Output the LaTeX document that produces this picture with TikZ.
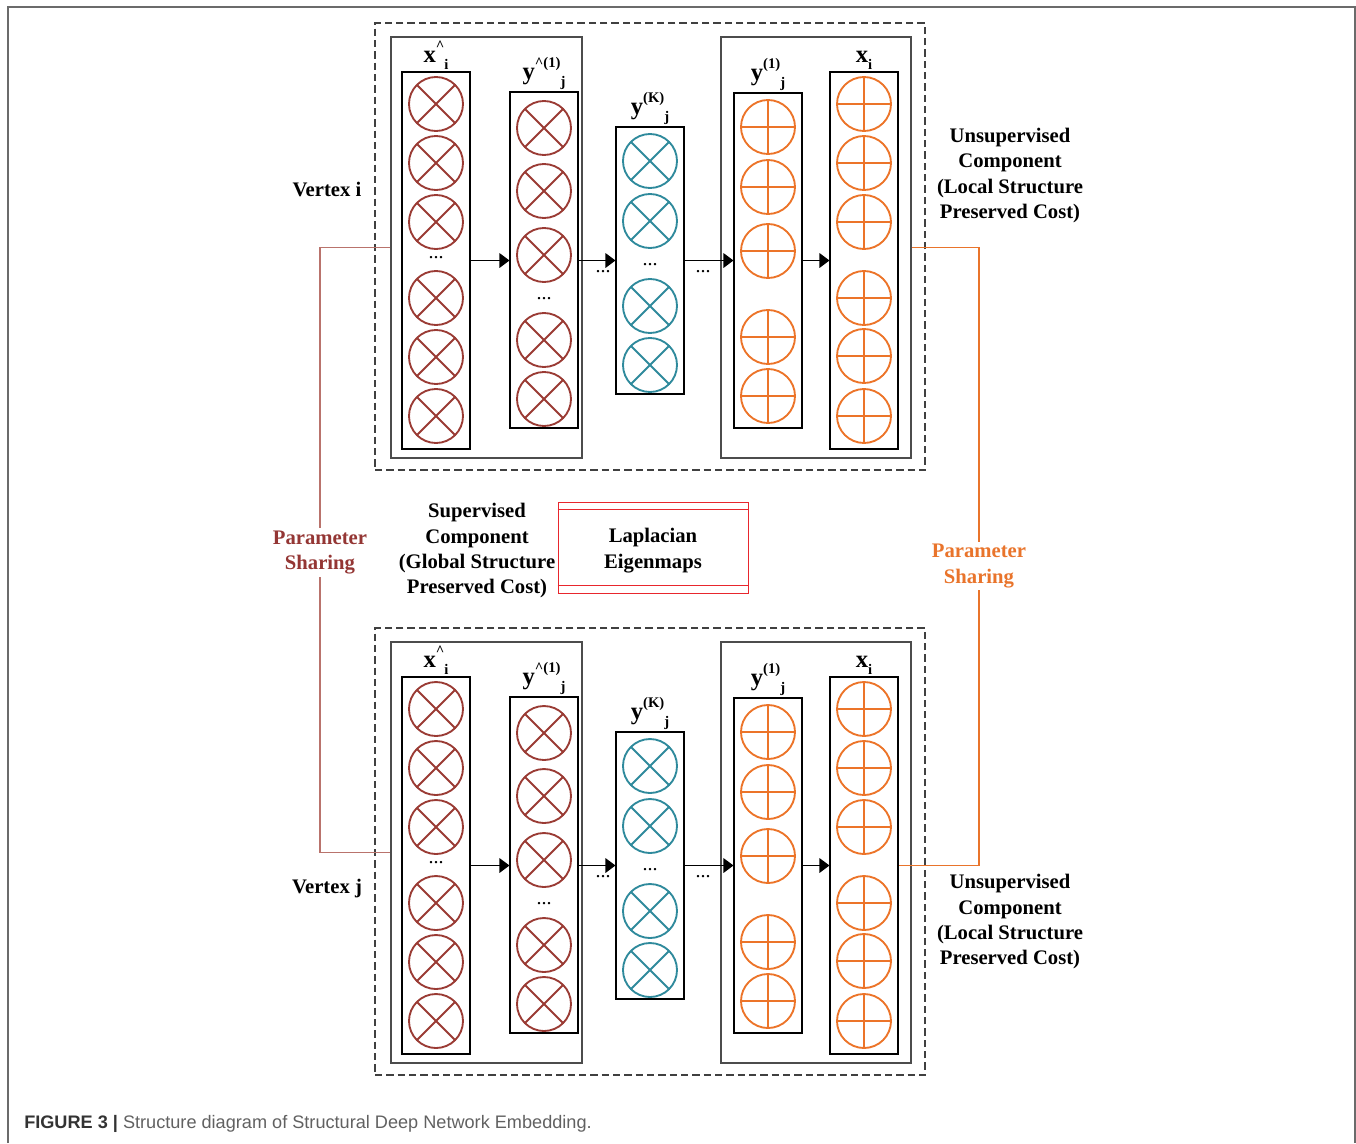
\documentclass[tikz,border=0pt]{standalone}
\usepackage{fontspec}
\setmainfont{Liberation Serif}
\setsansfont{Liberation Sans}
\usetikzlibrary{arrows.meta,calc}

\definecolor{xred}{HTML}{9A3B34}
\definecolor{xteal}{HTML}{2F8A9C}
\definecolor{xorange}{HTML}{EC7429}
\definecolor{psred}{HTML}{943634}
\definecolor{psredline}{HTML}{B9736C}
\definecolor{psorange}{HTML}{E9742B}
\definecolor{lapred}{HTML}{E8262D}
\definecolor{framegray}{HTML}{6B6B6B}

% raised / lowered small indices for the layer labels
\newcommand\supx[1]{\raisebox{0.5em}{\fontsize{11}{11}\selectfont #1}}
\newcommand\subx[1]{\raisebox{-0.3em}{\fontsize{11}{11}\selectfont #1}}

\tikzset{
  txt/.style={font=\fontsize{15.5}{19}\selectfont\bfseries, align=center, inner sep=0pt, yshift=-2.25pt},
  lbl/.style={font=\fontsize{18.5}{20}\selectfont\bfseries, inner sep=1pt, anchor=south},
  colbox/.style={draw=black, line width=0.8pt, minimum width=51pt, inner sep=0pt},
  netbox/.style={draw=black!70, line width=1.1pt, inner sep=0pt, minimum height=315.75pt},
  compbox/.style={draw=black!75, line width=0.9pt, dash pattern=on 5.5pt off 3pt, inner sep=0pt},
  neuron/.style={circle, draw=#1, line width=1.4pt, minimum size=40.5pt, inner sep=0pt},
  xneuron/.style={neuron=#1, path picture={\draw[#1, line width=1.4pt]
      (path picture bounding box.north west) -- (path picture bounding box.south east)
      (path picture bounding box.north east) -- (path picture bounding box.south west);}},
  pneuron/.style={neuron=#1, path picture={\draw[#1, line width=1.4pt]
      (path picture bounding box.north) -- (path picture bounding box.south)
      (path picture bounding box.east) -- (path picture bounding box.west);}},
  flow/.style={-{Triangle[length=7.5pt,width=11pt]}, line width=0.8pt},
  dotsnode/.style={font=\fontsize{15}{15}\selectfont, inner sep=0pt, anchor=base},
  share/.style={line width=0.95pt},
}

% one autoencoder component: #1 = name prefix, #2 = vertical offset (px)
\newcommand\sdnecomponent[2]{%
\begin{scope}[shift={(0,#2)}]
  \node[compbox, minimum width=412.5pt, minimum height=335.25pt] (#1-comp) at (650,246.5) {};
  \node[netbox, minimum width=143.25pt] (#1-enc) at (486.5,247.5) {};
  \node[netbox, minimum width=142.5pt] (#1-dec) at (816,247.5) {};
  % layer columns
  \node[colbox, minimum height=282.75pt] (#1-ca) at (436,260.5) {};
  \node[colbox, minimum height=252pt]    (#1-cb) at (544,260) {};
  \node[colbox, minimum height=200.25pt] (#1-cc) at (650,260.5) {};
  \node[colbox, minimum height=251.25pt] (#1-cd) at (768,260.5) {};
  \node[colbox, minimum height=282.75pt] (#1-ce) at (864,260.5) {};
  % units
  \foreach \yy [count=\k] in {104,163,222,298,357,416}
    \node[xneuron=xred] (#1-a\k) at (436,\yy) {};
  \foreach \yy [count=\k] in {128,191,255,340,399}
    \node[xneuron=xred] (#1-b\k) at (544,\yy) {};
  \foreach \yy [count=\k] in {161,221,306,365}
    \node[xneuron=xteal] (#1-c\k) at (650,\yy) {};
  \foreach \yy [count=\k] in {127,187,251,337,396}
    \node[pneuron=xorange] (#1-d\k) at (768,\yy) {};
  \foreach \yy [count=\k] in {104,163,222,298,356,416}
    \node[pneuron=xorange] (#1-e\k) at (864,\yy) {};
  % elided units
  \node[dotsnode] (#1-da) at (436,258) {...};
  \node[dotsnode] (#1-db) at (544,299) {...};
  \node[dotsnode] (#1-dc) at (650,265) {...};
  % layer labels
  \node[lbl] (#1-la) at (#1-ca.north) {x\supx{\textasciicircum}\subx{i}};
  \node[lbl] (#1-lb) at (#1-cb.north) {y\supx{\textasciicircum(1)}\subx{j}};
  \node[lbl] (#1-lc) at (#1-cc.north) {y\supx{(K)}\subx{j}};
  \node[lbl] (#1-ld) at (#1-cd.north) {y\supx{(1)}\subx{j}};
  \node[lbl] (#1-le) at (#1-ce.north) {x\subx{i}};
  % forward flow
  \draw[flow] (#1-ca.east) -- (#1-ca.east -| #1-cb.west);
  \draw[flow] (#1-cb.east |- #1-ca.east) -- (#1-ca.east -| #1-cc.west);
  \draw[flow] (#1-cc.east) -- (#1-cc.east -| #1-cd.west);
  \draw[flow] (#1-cd.east) -- (#1-cd.east -| #1-ce.west);
  \node[dotsnode] (#1-fb) at (603,272) {...};
  \node[dotsnode] (#1-fc) at (703,272) {...};
\end{scope}}

\begin{document}
\begin{tikzpicture}[x=0.75pt,y=-0.75pt]
  \useasboundingbox (0,0) rectangle (1356,1143);
  % figure frame
  \draw[framegray, line width=1.5pt] (7.5,1143) -- (7.5,6.5) -- (1355,6.5) -- (1355,1143);

  \sdnecomponent{A}{0}
  \sdnecomponent{B}{605}

  % side texts
  \node[txt] (vi) at (327,186) {Vertex i};
  \node[txt] (vj) at (327,886) {Vertex j};
  \node[txt] (unsA) at (1010,172.5) {Unsupervised\\Component\\(Local Structure\\Preserved Cost)};
  \node[txt] (unsB) at (1010,919) {Unsupervised\\Component\\(Local Structure\\Preserved Cost)};
  \node[txt] (sup) at (477,548) {Supervised\\Component\\(Global Structure\\Preserved Cost)};

  % Laplacian eigenmaps block
  \node[draw=lapred, line width=0.7pt, minimum width=142.5pt, minimum height=68.25pt,
        inner sep=0pt] (lap) at (653,547.5) {};
  \node[txt] (laptext) at (lap.center) {Laplacian\\Eigenmaps};
  \draw[lapred, line width=0.7pt] ($(lap.north west)+(0,8)$) -- ($(lap.north east)+(0,8)$);
  \draw[lapred, line width=0.7pt] ($(lap.south west)+(0,-8)$) -- ($(lap.south east)+(0,-8)$);

  % parameter sharing links
  \coordinate (psL) at (320,549.5);
  \coordinate (psR) at (979,563);
  \draw[share, psredline] (A-enc.west) -| (psL) |- (B-enc.west);
  \draw[share, psorange] (A-dec.east) -| (psR) |- (B-ce.east);
  \node[txt, text=psred, fill=white, inner sep=2pt] (psLt) at (psL) {Parameter\\Sharing};
  \node[txt, text=psorange, fill=white, inner sep=2pt] (psRt) at (psR) {Parameter\\Sharing};

  % caption
  \node[anchor=base west, inner sep=0pt, font=\sffamily\fontsize{13.6}{16}\selectfont] (cap) at (24,1128)
    {\textcolor{black!80}{\bfseries FIGURE 3 |} \textcolor{black!62}{Structure diagram of Structural Deep Network Embedding.}};
\end{tikzpicture}
\end{document}
